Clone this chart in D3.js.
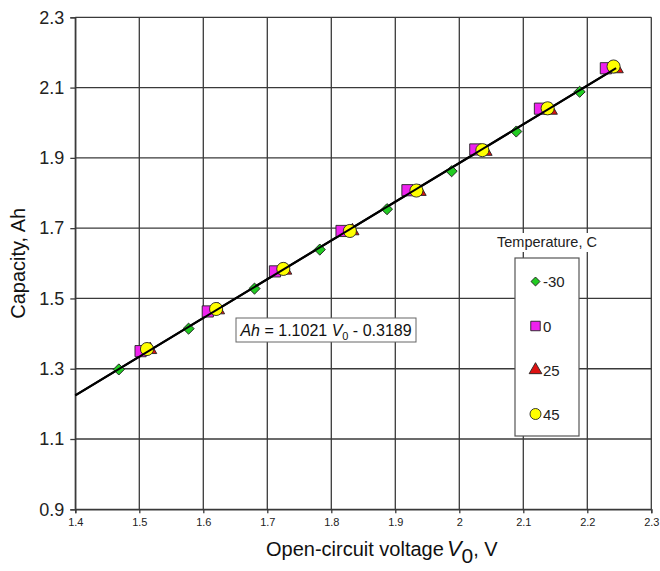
<!DOCTYPE html>
<html>
<head>
<meta charset="utf-8">
<script src="https://cdn.jsdelivr.net/npm/d3@7"></script>
<style>
  body { margin: 0; background: #fff; }
  svg { display: block; font-family: "Liberation Sans", Arial, Helvetica, sans-serif; }
</style>
</head>
<body>
<svg id="chart" width="660" height="571"></svg>
<script>
// Axis ticks
const xTickValues = [1.4, 1.5, 1.6, 1.7, 1.8, 1.9, 2.0, 2.1, 2.2, 2.3];
const xTickLabels = ["1.4", "1.5", "1.6", "1.7", "1.8", "1.9", "2", "2.1", "2.2", "2.3"];
const yTickValues = [0.9, 1.1, 1.3, 1.5, 1.7, 1.9, 2.1, 2.3];
const yTickLabels = ["0.9", "1.1", "1.3", "1.5", "1.7", "1.9", "2.1", "2.3"];

// Temperature series (open-circuit voltage V0, capacity Ah)
const temperatures = ["-30", "0", "25", "45"];
const voltsM30 = [1.468, 1.577, 1.680, 1.782, 1.887, 1.988, 2.089, 2.188];
const capM30   = [1.298, 1.414, 1.528, 1.639, 1.754, 1.862, 1.975, 2.088];
const volts0   = [1.502, 1.607, 1.712, 1.816, 1.919, 2.025, 2.126, 2.229];
const cap0     = [1.350, 1.463, 1.577, 1.692, 1.808, 1.924, 2.040, 2.155];
const volts25  = [1.517, 1.623, 1.728, 1.833, 1.938, 2.041, 2.143, 2.246];
const cap25    = [1.354, 1.467, 1.580, 1.692, 1.804, 1.918, 2.035, 2.153];
const volts45  = [1.512, 1.620, 1.725, 1.829, 1.933, 2.036, 2.138, 2.241];
const cap45    = [1.356, 1.470, 1.584, 1.692, 1.807, 1.922, 2.041, 2.160];

// Linear fit Ah = 1.1021 V0 - 0.3189
const fitSlope = 1.1021;
const fitIntercept = -0.3189;
const fitVolts = [1.4, 2.245];

const svg = d3.select("#chart");
const x = d3.scaleLinear().domain([1.4, 2.3]).range([75.3, 651.3]);
const y = d3.scaleLinear().domain([0.9, 2.3]).range([509.3, 17.3]);

const gridColor = "#3a3a3a";

// Grid lines
svg.append("g").selectAll("line").data(xTickValues).join("line")
  .attr("x1", d => x(d)).attr("x2", d => x(d))
  .attr("y1", y(2.3)).attr("y2", y(0.9))
  .attr("stroke", gridColor).attr("stroke-width", 1.3);
svg.append("g").selectAll("line").data(yTickValues).join("line")
  .attr("x1", x(1.4)).attr("x2", x(2.3))
  .attr("y1", d => y(d)).attr("y2", d => y(d))
  .attr("stroke", gridColor).attr("stroke-width", 1.3);

// Axes
const yAxis = d3.axisLeft(y).tickValues(yTickValues).tickSize(5).tickPadding(6)
  .tickFormat((d, i) => yTickLabels[i]);
const gy = svg.append("g").attr("transform", `translate(${x(1.4)},0)`).call(yAxis);
gy.select(".domain").attr("stroke", gridColor).attr("stroke-width", 1.3);
gy.selectAll(".tick line").attr("stroke", gridColor).attr("stroke-width", 1.3);
gy.selectAll(".tick text").attr("font-size", 18).attr("fill", "#222")
  .attr("font-family", "'Liberation Sans', Arial, sans-serif");

const xAxis = d3.axisBottom(x).tickValues(xTickValues).tickSize(4).tickPadding(5)
  .tickFormat((d, i) => xTickLabels[i]);
const gx = svg.append("g").attr("transform", `translate(0,${y(0.9)})`).call(xAxis);
gx.select(".domain").attr("stroke", gridColor).attr("stroke-width", 1.3);
gx.selectAll(".tick line").attr("stroke", gridColor).attr("stroke-width", 1.3);
gx.selectAll(".tick text").attr("font-size", 11).attr("fill", "#222")
  .attr("font-family", "'Liberation Sans', Arial, sans-serif");

// Axis titles
svg.append("text")
  .attr("transform", `translate(25,${(y(0.9) + y(2.3)) / 2}) rotate(-90)`)
  .attr("text-anchor", "middle").attr("font-size", 20).attr("fill", "#111")
  .text("Capacity, Ah");

const xt = svg.append("text").attr("x", 266).attr("y", 556)
  .attr("text-anchor", "start").attr("font-size", 20).attr("fill", "#111");
xt.append("tspan").text("Open-circuit voltage");
xt.append("tspan").attr("dx", 3).attr("font-style", "italic").attr("font-size", 22).text("V");
xt.append("tspan").attr("dy", 7).attr("font-size", 21).text("0");
xt.append("tspan").attr("dy", -7).text(", V");

// Fit line
svg.append("line")
  .attr("x1", x(fitVolts[0])).attr("y1", y(fitSlope * fitVolts[0] + fitIntercept))
  .attr("x2", x(fitVolts[1])).attr("y2", y(fitSlope * fitVolts[1] + fitIntercept))
  .attr("stroke", "#000").attr("stroke-width", 2.2);

// Marker shapes
const styles = [
  { type: d3.symbolSquare, size: 62, rotate: 45, fill: "#22cc22" },
  { type: d3.symbolSquare, size: 125, rotate: 0, fill: "#ee22ee" },
  { type: d3.symbolTriangle, size: 75, rotate: 0, fill: "#dd1111" },
  { type: d3.symbolCircle, size: 135, rotate: 0, fill: "#ffff00" }
];
const seriesVolts = [voltsM30, volts0, volts25, volts45];
const seriesCap = [capM30, cap0, cap25, cap45];

seriesVolts.forEach((vs, si) => {
  const st = styles[si];
  const pts = vs.map((v, i) => ({ v, c: seriesCap[si][i] }));
  svg.append("g").selectAll("path").data(pts).join("path")
    .attr("d", d3.symbol().type(st.type).size(st.size)())
    .attr("transform", d => `translate(${x(d.v)},${y(d.c)}) rotate(${st.rotate})`)
    .attr("fill", st.fill).attr("stroke", "#222").attr("stroke-width", 0.9);
});

// Fit line again on top so it crosses the markers
svg.append("line")
  .attr("x1", x(fitVolts[0])).attr("y1", y(fitSlope * fitVolts[0] + fitIntercept))
  .attr("x2", x(fitVolts[1])).attr("y2", y(fitSlope * fitVolts[1] + fitIntercept))
  .attr("stroke", "#000").attr("stroke-width", 2);

// Equation label
svg.append("rect").attr("x", 236).attr("y", 318).attr("width", 180).attr("height", 24)
  .attr("fill", "#fff").attr("stroke", "#666").attr("stroke-width", 1);
const eq = svg.append("text").attr("x", 326).attr("y", 336)
  .attr("text-anchor", "middle").attr("font-size", 16).attr("fill", "#111");
eq.append("tspan").attr("font-style", "italic").text("Ah");
eq.append("tspan").text(` = ${fitSlope} `);
eq.append("tspan").attr("font-style", "italic").text("V");
eq.append("tspan").attr("dy", 4).attr("font-size", 11).text("0");
eq.append("tspan").attr("dy", -4).text(` - ${Math.abs(fitIntercept)}`);

// Legend
const lg = svg.append("g");
lg.append("rect").attr("x", 503).attr("y", 233).attr("width", 100).attr("height", 19).attr("fill", "#fff");
lg.append("text").attr("x", 547).attr("y", 247).attr("text-anchor", "middle")
  .attr("font-size", 14.5).attr("fill", "#222").text("Temperature, C");
lg.append("rect").attr("x", 515).attr("y", 258).attr("width", 64).attr("height", 178)
  .attr("fill", "#fff").attr("stroke", "#555").attr("stroke-width", 1.2);
const legendY = [281.5, 326, 370, 414];
const legendSize = [40, 90, 70, 95];
temperatures.forEach((t, i) => {
  const st = styles[i];
  lg.append("path")
    .attr("d", d3.symbol().type(st.type).size(legendSize[i])())
    .attr("transform", `translate(535.5,${legendY[i]}) rotate(${st.rotate})`)
    .attr("fill", st.fill).attr("stroke", "#222").attr("stroke-width", 0.9);
  lg.append("text").attr("x", 543).attr("y", legendY[i] + 5.5)
    .attr("font-size", 15).attr("fill", "#222").text(t);
});
</script>
</body>
</html>
